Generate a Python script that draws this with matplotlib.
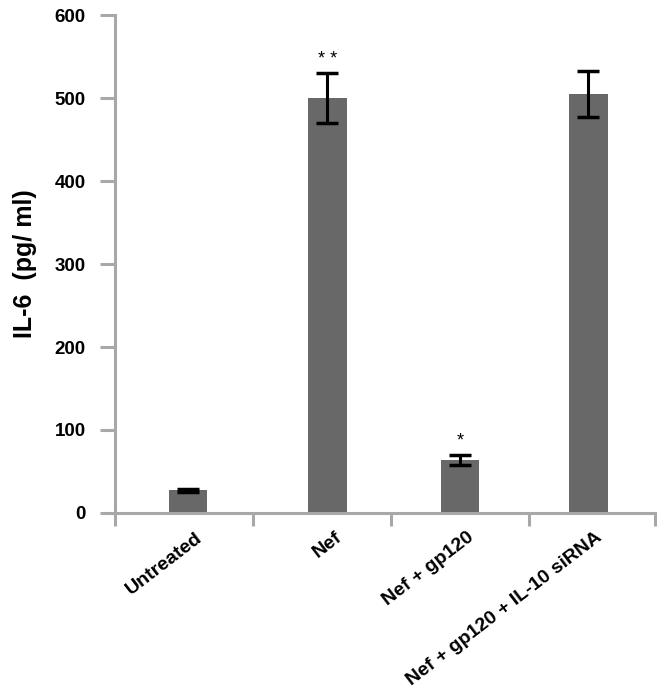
import matplotlib
matplotlib.use("Agg")
import matplotlib.pyplot as plt
import matplotlib.transforms as mtrans

categories = ["Untreated", "Nef", "Nef + gp120", "Nef + gp120 + IL-10 siRNA"]
values = [27, 500, 64, 505]
errors = [2, 30, 6, 28]
second_series = [0, 0, 0, 0]
stars = ["", "* *", "*", ""]
yticks = [0, 100, 200, 300, 400, 500, 600]

plt.rcParams['font.family'] = ['Liberation Sans', 'DejaVu Sans']

fig = plt.figure(figsize=(6.64, 6.94), dpi=100)
ax = fig.add_axes([0.173, 0.261, 0.813, 0.717])

pos = [0.03, 1.04, 2.0, 2.93]
gray = "#a8a8a8"
ax.bar(pos, values, width=0.28, color="#686868", edgecolor="none", zorder=2)
ax.bar([p + 0.14 for p in pos], second_series, width=0.14, align="edge",
       color="#686868", edgecolor="#707070", linewidth=0.8, zorder=2)
ax.errorbar(pos, values, yerr=errors, fmt="none", ecolor="black",
            elinewidth=2.2, capsize=8, capthick=2.5, zorder=3)
for p, v, e, s in zip(pos, values, errors, stars):
    if s:
        ax.text(p, v + e + 6, s, ha="center", va="bottom", fontsize=13)

ax.set_xlim(-0.5, 3.41)
ax.set_ylim(0, 600)
ax.set_yticks(yticks)
ax.set_yticklabels([str(t) for t in yticks], fontsize=13.5, fontweight="bold")

ax.set_xticks(pos)
ax.set_xticklabels([])
ax.tick_params(axis="x", which="major", length=0)
ax.set_xticks([-0.5, 0.5, 1.5, 2.5, 3.41], minor=True)
ax.tick_params(axis="x", which="minor", length=9, width=2.2, color=gray, direction="out")
ax.tick_params(axis="y", length=11, width=2.2, color=gray, direction="out", pad=10)

offset = mtrans.ScaledTranslation(11/100, -16/100, fig.dpi_scale_trans)
for p, lab in zip(pos, categories):
    ax.text(p - 0.03, 0, lab, rotation=37.5, ha="right", va="top", rotation_mode="anchor",
            fontsize=14, fontweight="bold",
            transform=ax.transData + offset)

for sp in ["top", "right"]:
    ax.spines[sp].set_visible(False)
for sp in ["left", "bottom"]:
    ax.spines[sp].set_color(gray)
    ax.spines[sp].set_linewidth(2.2)

ax.set_ylabel("IL-6  (pg/ ml)", fontsize=18, fontweight="bold", labelpad=13)

fig.savefig("out.png", dpi=100)
